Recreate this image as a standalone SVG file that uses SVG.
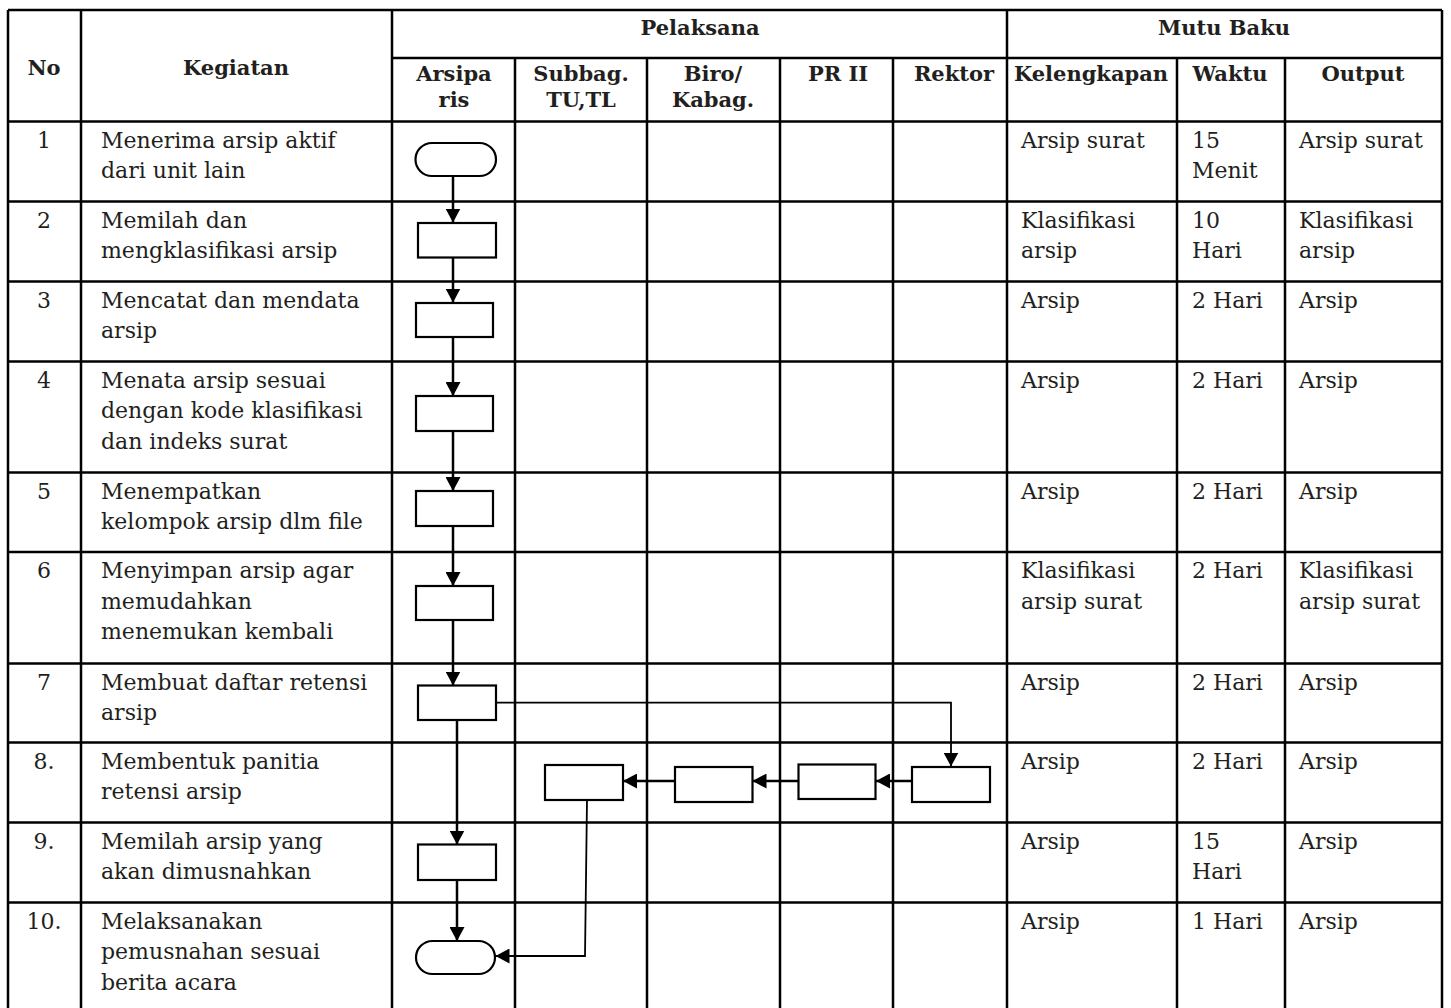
<svg xmlns="http://www.w3.org/2000/svg" width="1451" height="1008" viewBox="0 0 1451 1008">
<style>
.grid line{stroke:#000;stroke-width:2.5;}
.t{font-family:"DejaVu Serif","Liberation Serif",serif;font-size:22px;fill:#231f20;}
.h{font-family:"DejaVu Serif","Liberation Serif",serif;font-size:21px;font-weight:bold;fill:#231f20;text-anchor:middle;}
.c{text-anchor:middle;}
.shape{fill:#fff;stroke:#000;stroke-width:2.2;}
.conn{fill:none;stroke:#000;stroke-width:2.5;}
.thin{stroke-width:1.8;}
</style>
<defs>
<marker id="ah" viewBox="0 0 14 15" refX="14" refY="7.5" markerWidth="14" markerHeight="15" markerUnits="userSpaceOnUse" orient="auto">
<path d="M0,0 L14,7.5 L0,15 z" fill="#000"/>
</marker>
</defs>
<rect width="1451" height="1008" fill="#fff"/>
<g id="table" class="grid">
<line x1="8" y1="10" x2="1442" y2="10"/>
<line x1="392" y1="58" x2="1442" y2="58"/>
<line x1="8" y1="121.5" x2="1442" y2="121.5"/>
<line x1="8" y1="201.5" x2="1442" y2="201.5"/>
<line x1="8" y1="281.5" x2="1442" y2="281.5"/>
<line x1="8" y1="361.5" x2="1442" y2="361.5"/>
<line x1="8" y1="472.5" x2="1442" y2="472.5"/>
<line x1="8" y1="552" x2="1442" y2="552"/>
<line x1="8" y1="663.5" x2="1442" y2="663.5"/>
<line x1="8" y1="742.5" x2="1442" y2="742.5"/>
<line x1="8" y1="822.5" x2="1442" y2="822.5"/>
<line x1="8" y1="902.5" x2="1442" y2="902.5"/>
<line x1="8" y1="10" x2="8" y2="1008"/>
<line x1="81" y1="10" x2="81" y2="1008"/>
<line x1="392" y1="10" x2="392" y2="1008"/>
<line x1="515" y1="58" x2="515" y2="1008"/>
<line x1="647" y1="58" x2="647" y2="1008"/>
<line x1="780" y1="58" x2="780" y2="1008"/>
<line x1="893" y1="58" x2="893" y2="1008"/>
<line x1="1007" y1="10" x2="1007" y2="1008"/>
<line x1="1177" y1="58" x2="1177" y2="1008"/>
<line x1="1285" y1="58" x2="1285" y2="1008"/>
<line x1="1442" y1="10" x2="1442" y2="1008"/>
</g>
<g id="header">
<text class="h" x="44" y="75">No</text>
<text class="h" x="236" y="75">Kegiatan</text>
<text class="h" x="700" y="35">Pelaksana</text>
<text class="h" x="1224" y="35">Mutu Baku</text>
<text class="h" x="454" y="81">Arsipa</text>
<text class="h" x="454" y="107">ris</text>
<text class="h" x="581" y="81">Subbag.</text>
<text class="h" x="581" y="107">TU,TL</text>
<text class="h" x="713" y="81">Biro/</text>
<text class="h" x="713" y="107">Kabag.</text>
<text class="h" x="838" y="81">PR II</text>
<text class="h" x="954" y="81">Rektor</text>
<text class="h" x="1091" y="81">Kelengkapan</text>
<text class="h" x="1230" y="81">Waktu</text>
<text class="h" x="1363" y="81">Output</text>
</g>
<g id="col-no">
<text class="t c" x="44" y="147.5">1</text>
<text class="t c" x="44" y="227.5">2</text>
<text class="t c" x="44" y="307.5">3</text>
<text class="t c" x="44" y="387.5">4</text>
<text class="t c" x="44" y="498.5">5</text>
<text class="t c" x="44" y="578">6</text>
<text class="t c" x="44" y="689.5">7</text>
<text class="t c" x="44" y="768.5">8.</text>
<text class="t c" x="44" y="848.5">9.</text>
<text class="t c" x="44" y="928.5">10.</text>
</g>
<g id="col-kegiatan">
<text class="t" x="101" y="147.5">Menerima arsip aktif<tspan x="101" dy="30.5">dari unit lain</tspan></text>
<text class="t" x="101" y="227.5">Memilah dan<tspan x="101" dy="30.5">mengklasifikasi arsip</tspan></text>
<text class="t" x="101" y="307.5">Mencatat dan mendata<tspan x="101" dy="30.5">arsip</tspan></text>
<text class="t" x="101" y="387.5">Menata arsip sesuai<tspan x="101" dy="30.5">dengan kode klasifikasi</tspan><tspan x="101" dy="30.5">dan indeks surat</tspan></text>
<text class="t" x="101" y="498.5">Menempatkan<tspan x="101" dy="30.5">kelompok arsip dlm file</tspan></text>
<text class="t" x="101" y="578">Menyimpan arsip agar<tspan x="101" dy="30.5">memudahkan</tspan><tspan x="101" dy="30.5">menemukan kembali</tspan></text>
<text class="t" x="101" y="689.5">Membuat daftar retensi<tspan x="101" dy="30.5">arsip</tspan></text>
<text class="t" x="101" y="768.5">Membentuk panitia<tspan x="101" dy="30.5">retensi arsip</tspan></text>
<text class="t" x="101" y="848.5">Memilah arsip yang<tspan x="101" dy="30.5">akan dimusnahkan</tspan></text>
<text class="t" x="101" y="928.5">Melaksanakan<tspan x="101" dy="30.5">pemusnahan sesuai</tspan><tspan x="101" dy="30.5">berita acara</tspan></text>
</g>
<g id="col-kelengkapan">
<text class="t" x="1021" y="147.5">Arsip surat</text>
<text class="t" x="1021" y="227.5">Klasifikasi<tspan x="1021" dy="30.5">arsip</tspan></text>
<text class="t" x="1021" y="307.5">Arsip</text>
<text class="t" x="1021" y="387.5">Arsip</text>
<text class="t" x="1021" y="498.5">Arsip</text>
<text class="t" x="1021" y="578">Klasifikasi<tspan x="1021" dy="30.5">arsip surat</tspan></text>
<text class="t" x="1021" y="689.5">Arsip</text>
<text class="t" x="1021" y="768.5">Arsip</text>
<text class="t" x="1021" y="848.5">Arsip</text>
<text class="t" x="1021" y="928.5">Arsip</text>
</g>
<g id="col-waktu">
<text class="t" x="1192" y="147.5">15<tspan x="1192" dy="30.5">Menit</tspan></text>
<text class="t" x="1192" y="227.5">10<tspan x="1192" dy="30.5">Hari</tspan></text>
<text class="t" x="1192" y="307.5">2 Hari</text>
<text class="t" x="1192" y="387.5">2 Hari</text>
<text class="t" x="1192" y="498.5">2 Hari</text>
<text class="t" x="1192" y="578">2 Hari</text>
<text class="t" x="1192" y="689.5">2 Hari</text>
<text class="t" x="1192" y="768.5">2 Hari</text>
<text class="t" x="1192" y="848.5">15<tspan x="1192" dy="30.5">Hari</tspan></text>
<text class="t" x="1192" y="928.5">1 Hari</text>
</g>
<g id="col-output">
<text class="t" x="1299" y="147.5">Arsip surat</text>
<text class="t" x="1299" y="227.5">Klasifikasi<tspan x="1299" dy="30.5">arsip</tspan></text>
<text class="t" x="1299" y="307.5">Arsip</text>
<text class="t" x="1299" y="387.5">Arsip</text>
<text class="t" x="1299" y="498.5">Arsip</text>
<text class="t" x="1299" y="578">Klasifikasi<tspan x="1299" dy="30.5">arsip surat</tspan></text>
<text class="t" x="1299" y="689.5">Arsip</text>
<text class="t" x="1299" y="768.5">Arsip</text>
<text class="t" x="1299" y="848.5">Arsip</text>
<text class="t" x="1299" y="928.5">Arsip</text>
</g>
<g id="connectors">
<path class="conn" d="M453,176 V222.5" marker-end="url(#ah)"/>
<path class="conn" d="M453,257.5 V302.5" marker-end="url(#ah)"/>
<path class="conn" d="M453,337 V396" marker-end="url(#ah)"/>
<path class="conn" d="M453,431 V491" marker-end="url(#ah)"/>
<path class="conn" d="M453,526 V586" marker-end="url(#ah)"/>
<path class="conn" d="M453,620 V685.5" marker-end="url(#ah)"/>
<path class="conn" d="M457,720 V844.5" marker-end="url(#ah)"/>
<path class="conn thin" d="M496,702.7 H951 V766.5" marker-end="url(#ah)"/>
<path class="conn" d="M912,781 H876" marker-end="url(#ah)"/>
<path class="conn" d="M798.5,781 H752.5" marker-end="url(#ah)"/>
<path class="conn" d="M675,781 H623" marker-end="url(#ah)"/>
<path class="conn thin" d="M587,800 L585,956 H495.5" marker-end="url(#ah)"/>
<path class="conn" d="M457,880 V941" marker-end="url(#ah)"/>
</g>
<g id="n1-start"><rect class="shape" x="415.5" y="143" width="80.5" height="33" rx="16.5"/></g>
<g id="n2"><rect class="shape" x="418" y="223" width="78" height="34.5"/></g>
<g id="n3"><rect class="shape" x="416" y="303" width="77" height="34"/></g>
<g id="n4"><rect class="shape" x="416" y="396" width="77" height="35"/></g>
<g id="n5"><rect class="shape" x="416" y="491" width="77" height="35"/></g>
<g id="n6"><rect class="shape" x="416" y="586" width="77" height="34"/></g>
<g id="n7"><rect class="shape" x="418" y="685.5" width="78" height="34.5"/></g>
<g id="n8-rektor"><rect class="shape" x="912" y="767" width="78" height="35"/></g>
<g id="n8-pr2"><rect class="shape" x="798.5" y="764.5" width="77" height="34.5"/></g>
<g id="n8-biro"><rect class="shape" x="675" y="767" width="77.5" height="35"/></g>
<g id="n8-subbag"><rect class="shape" x="545" y="765" width="78" height="35"/></g>
<g id="n9"><rect class="shape" x="418" y="844.5" width="78" height="35.5"/></g>
<g id="n10-end"><rect class="shape" x="416" y="941" width="79" height="33" rx="16.5"/></g>
</svg>
